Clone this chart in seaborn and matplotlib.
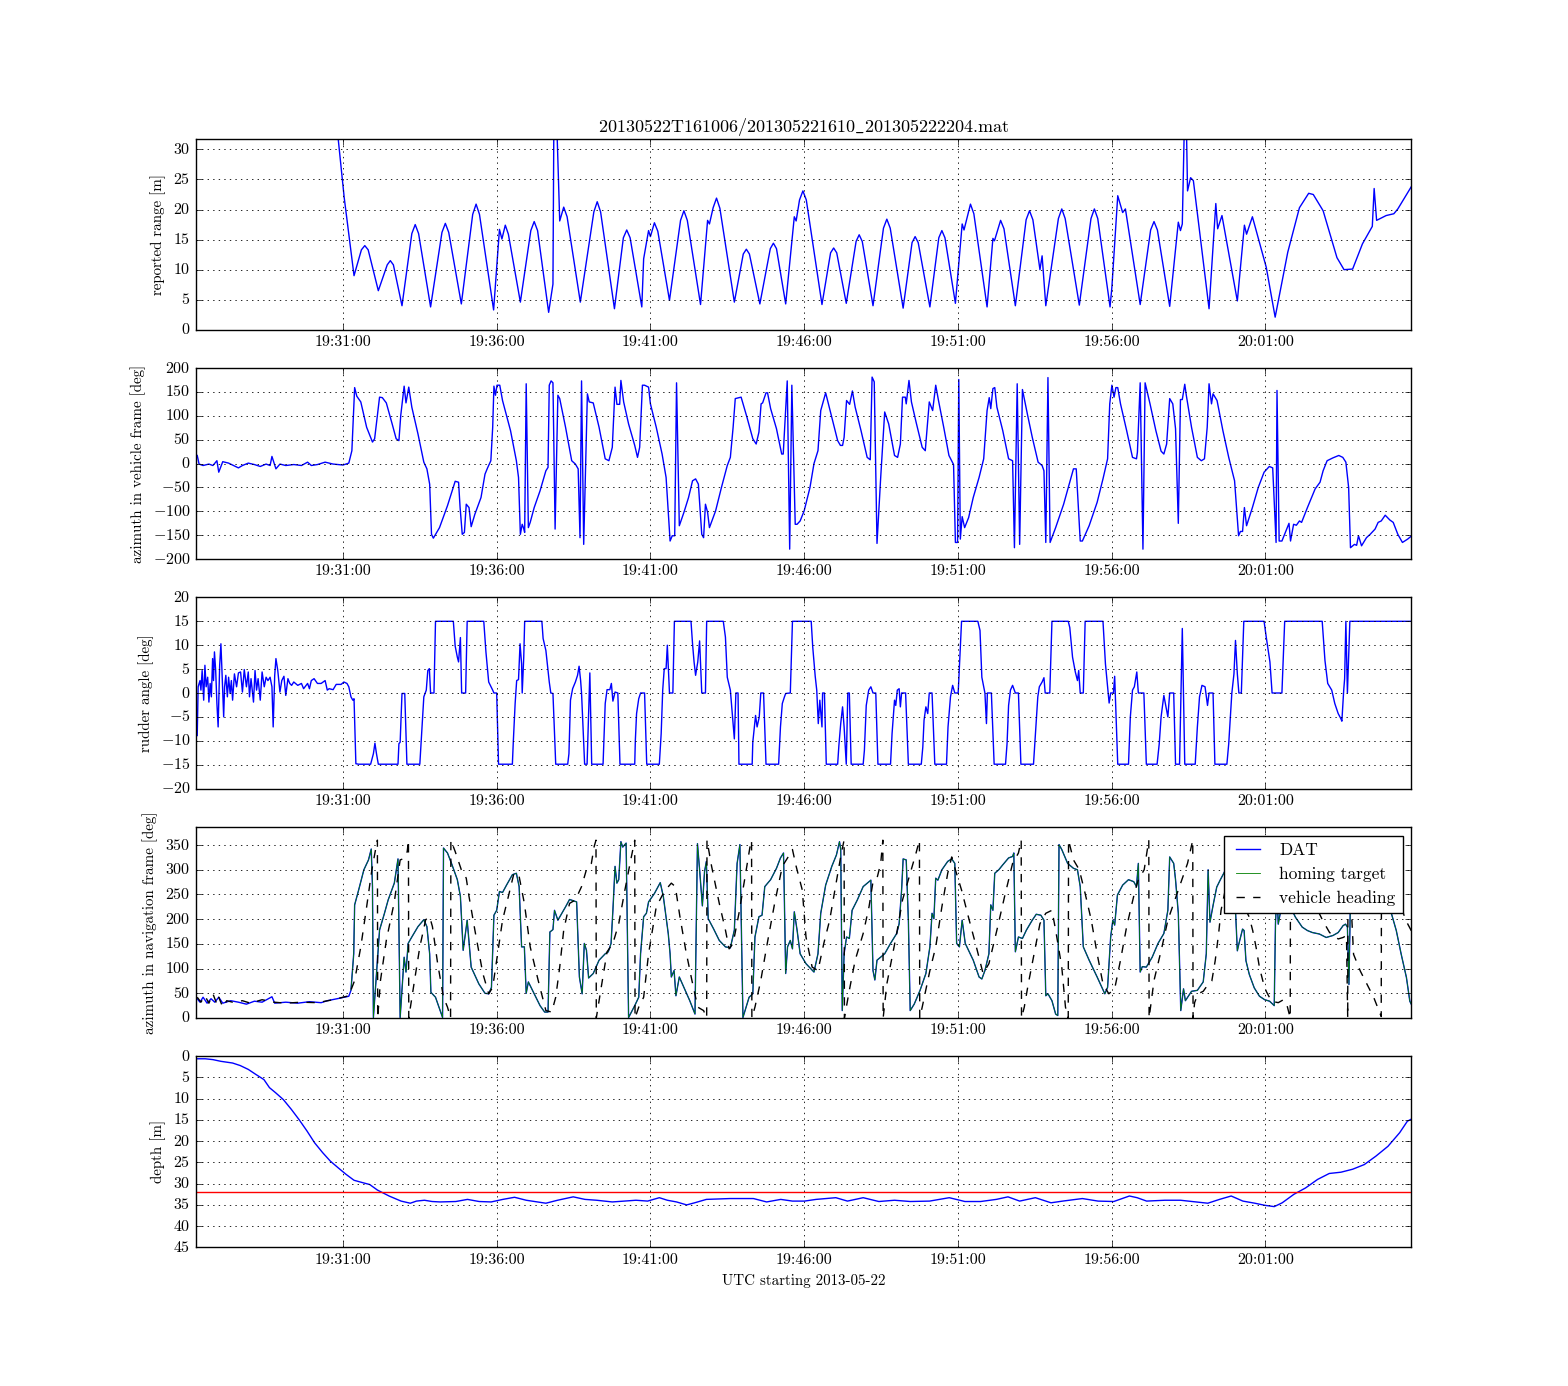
import numpy as np
import pandas as pd
import matplotlib
matplotlib.use('Agg')
import matplotlib.pyplot as plt
import matplotlib.dates as mdates
import seaborn as sns

plt.style.use('classic')
plt.rcParams.update({
    'figure.facecolor': 'white',
    'savefig.facecolor': 'white',
    'font.family': ['cmr10', 'DejaVu Serif'],
    'mathtext.fontset': 'cm',
    'axes.formatter.use_mathtext': True,
    'font.size': 10.8,
    'xtick.labelsize': 11.5,
    'ytick.labelsize': 11.5,
    'axes.labelsize': 10.8,
    'axes.titlesize': 13,
    'legend.fontsize': 12.5,
})

# times are minutes after 19:00 UTC, 2013-05-22
BASE = pd.Timestamp('2013-05-22 19:00:00')
X_START, X_END = 26.22, 65.745

# reported range [m]
range_t = [30.80, 31.04, 31.36, 31.60, 31.71, 31.82, 32.15, 32.44, 32.54, 32.64, 32.92, 33.24,
           33.35, 33.46, 33.85, 34.22, 34.33, 34.44, 34.85, 35.22, 35.33, 35.44, 35.90, 36.09,
           36.17, 36.28, 36.38, 36.77, 37.11, 37.22, 37.33, 37.69, 37.83, 37.86, 37.95, 38.05,
           38.18, 38.29, 38.72, 39.16, 39.27, 39.38, 39.83, 40.12, 40.23, 40.34, 40.72, 40.78,
           40.94, 41.00, 41.13, 41.24, 41.62, 41.98, 42.09, 42.20, 42.63, 42.86, 42.92, 43.04,
           43.15, 43.26, 43.73, 44.02, 44.12, 44.22, 44.56, 44.90, 45.00, 45.10, 45.40, 45.68,
           45.74, 45.85, 45.96, 46.07, 46.58, 46.86, 46.96, 47.06, 47.37, 47.69, 47.79, 47.89,
           48.24, 48.58, 48.69, 48.80, 49.22, 49.51, 49.61, 49.71, 50.09, 50.38, 50.48, 50.58,
           50.92, 51.14, 51.20, 51.41, 51.52, 51.95, 52.14, 52.19, 52.39, 52.50, 52.87, 53.22,
           53.33, 53.44, 53.67, 53.74, 53.86, 54.27, 54.38, 54.49, 54.95, 55.33, 55.44, 55.55,
           55.95, 56.01, 56.20, 56.36, 56.45, 56.93, 57.27, 57.38, 57.49, 57.89, 58.17, 58.24,
           58.30, 58.37, 58.43, 58.47, 58.57, 58.66, 59.17, 59.39, 59.45, 59.59, 60.09, 60.32,
           60.39, 60.58, 61.03, 61.32, 61.73, 62.11, 62.41, 62.56, 62.88, 63.33, 63.56, 63.84,
           64.16, 64.48, 64.54, 64.62, 64.93, 65.18, 65.31, 65.63, 65.76]
range_v = [34.0, 22.0, 9.0, 13.3, 14.0, 13.3, 6.5, 10.8, 11.5, 10.8, 4.0, 16.0,
           17.5, 16.0, 3.8, 16.2, 17.7, 16.2, 4.3, 19.2, 20.9, 19.2, 3.3, 16.7,
           15.1, 17.4, 15.9, 4.6, 16.5, 18.0, 16.5, 2.9, 7.6, 35.0, 35.0, 18.1,
           20.4, 18.8, 4.6, 19.6, 21.3, 19.6, 3.5, 15.3, 16.6, 15.3, 3.8, 11.8,
           16.5, 15.5, 17.8, 16.4, 4.9, 18.2, 19.8, 18.2, 4.2, 18.2, 17.6, 20.3,
           21.9, 20.2, 4.6, 12.6, 13.4, 12.6, 4.3, 13.5, 14.4, 13.5, 4.3, 18.8,
           18.1, 21.6, 23.1, 21.6, 4.2, 12.8, 13.6, 12.8, 4.4, 14.7, 15.8, 14.7,
           4.0, 16.9, 18.4, 16.9, 3.6, 14.5, 15.5, 14.5, 3.8, 15.3, 16.5, 15.3,
           4.4, 17.6, 16.6, 20.9, 19.3, 3.8, 15.2, 14.8, 18.2, 16.8, 4.0, 18.3,
           19.8, 18.3, 10.0, 12.3, 4.0, 18.5, 20.1, 18.5, 4.1, 18.5, 20.1, 18.5,
           3.8, 7.1, 22.3, 19.5, 20.1, 4.2, 16.6, 18.0, 16.6, 3.9, 17.9, 16.5,
           17.6, 35.0, 35.0, 23.1, 25.3, 24.8, 3.5, 21.0, 16.8, 19.0, 4.8, 17.4,
           15.9, 18.8, 10.4, 2.1, 12.9, 20.3, 22.7, 22.5, 19.8, 12.0, 10.0, 10.1,
           14.3, 17.2, 23.5, 18.2, 19.0, 19.3, 20.1, 22.8, 23.9]

# azimuth in vehicle frame [deg]
azv_t = [26.26, 26.32, 26.45, 26.64, 26.77, 26.90, 26.96, 27.09, 27.28, 27.60, 27.73, 27.92,
         28.12, 28.31, 28.50, 28.63, 28.69, 28.82, 28.95, 29.14, 29.40, 29.65, 29.85, 29.97,
         30.17, 30.42, 30.68, 31.00, 31.19, 31.29, 31.38, 31.45, 31.58, 31.77, 31.96, 32.03,
         32.19, 32.28, 32.41, 32.60, 32.73, 32.82, 32.88, 32.99, 33.05, 33.14, 33.24, 33.44,
         33.63, 33.73, 33.82, 33.88, 33.94, 34.14, 34.40, 34.65, 34.76, 34.81, 34.88, 34.95,
         35.01, 35.10, 35.17, 35.29, 35.49, 35.62, 35.71, 35.81, 35.87, 35.91, 35.96, 36.01,
         36.10, 36.19, 36.45, 36.64, 36.71, 36.77, 36.83, 36.87, 36.91, 36.96, 37.03, 37.09,
         37.22, 37.41, 37.60, 37.67, 37.71, 37.77, 37.83, 37.90, 37.99, 38.05, 38.24, 38.44,
         38.56, 38.65, 38.71, 38.76, 38.83, 38.95, 39.01, 39.14, 39.33, 39.53, 39.65, 39.76,
         39.85, 39.91, 40.00, 40.04, 40.13, 40.29, 40.49, 40.58, 40.65, 40.74, 40.81, 40.94,
         41.00, 41.19, 41.38, 41.51, 41.64, 41.71, 41.79, 41.85, 41.94, 42.09, 42.24, 42.37,
         42.47, 42.56, 42.67, 42.73, 42.79, 42.86, 42.92, 43.12, 43.31, 43.50, 43.60, 43.69,
         43.76, 43.95, 44.14, 44.33, 44.44, 44.53, 44.60, 44.65, 44.76, 44.81, 44.91, 45.10,
         45.27, 45.32, 45.45, 45.53, 45.60, 45.71, 45.77, 45.87,
         46.00, 46.19, 46.32, 46.45, 46.54, 46.70, 46.90, 47.09, 47.18, 47.25, 47.30, 47.38,
         47.48, 47.57, 47.66, 47.85, 48.05, 48.15, 48.21, 48.28, 48.37, 48.49, 48.62, 48.75,
         48.94, 49.04, 49.13, 49.20, 49.29, 49.32, 49.41, 49.49, 49.64, 49.84, 49.94, 50.07,
         50.18, 50.28, 50.37, 50.54, 50.71, 50.86, 50.92, 50.99, 51.03, 51.08, 51.14, 51.22,
         51.35, 51.50, 51.69, 51.84, 51.95, 52.02, 52.07, 52.14, 52.20, 52.27, 52.46, 52.65,
         52.78, 52.84, 52.93, 53.01, 53.10, 53.26, 53.42, 53.61, 53.74, 53.80, 53.86, 53.93,
         54.00, 54.18, 54.44, 54.76, 54.85, 54.98, 55.05, 55.27, 55.53, 55.72, 55.87, 55.94,
         56.01, 56.08, 56.14, 56.20, 56.29, 56.49, 56.68, 56.81, 56.84, 56.93, 57.02, 57.09,
         57.25, 57.44, 57.61, 57.70, 57.79, 57.89, 57.99, 58.08, 58.17, 58.24, 58.30, 58.38,
         58.43, 58.60, 58.79, 58.92, 59.02, 59.11, 59.17, 59.25, 59.30, 59.43, 59.62, 59.81,
         60.00, 60.13, 60.19, 60.26, 60.32, 60.39, 60.58, 60.77, 60.96, 61.13, 61.24, 61.35,
         61.38, 61.45, 61.54, 61.77, 61.82, 61.92, 62.01, 62.11, 62.18, 62.37, 62.62, 62.78,
         62.88, 63.01, 63.20, 63.39, 63.52, 63.62, 63.71, 63.77, 63.90, 63.97, 64.03, 64.13,
         64.29, 64.41, 64.57, 64.67, 64.77, 64.90, 65.05, 65.16, 65.31, 65.46, 65.63, 65.76]
azv_v = [17, -1, -4, -1, -4, 6, -18, 4, 1, -9, -4, 1,
         -2, -6, -1, -4, 15, -11, -1, -4, -2, -4, 3, -4,
         -2, 3, -1, -3, 1, 27, 159, 141, 129, 76, 45, 52,
         139, 138, 127, 83, 52, 48, 101, 162, 127, 160, 118, 62,
         3, -11, -43, -148, -156, -134, -88, -37, -39, -92, -148, -144,
         -85, -92, -132, -106, -71, -22, -8, 6, 76, 162, 143, 164,
         164, 132, 69, 6, -29, -148, -127, -134, -144, 167, -134, -123,
         -92, -57, -15, -8, 164, 173, 169, -137, 143, 136, 76, 6,
         -1, -11, -155, 173, -169, 146, 129, 127, 76, 10, 6, 34,
         160, 124, 124, 174, 129, 83, 38, 13, 34, 164, 164, 160,
         125, 76, 20, -29, -162, -151, -151, 169, -130, -102, -71, -36,
         -32, -43, -148, -155, -85, -102, -134, -99, -50, -4, 13, 76,
         136, 139, 97, 52, 41, 66, 125, 127, 148, 148, 115, 73,
         20, 20, 173, -179, 164, -127, -127, -120,
         -99, -50, 0, 27, 111, 148, 97, 48, 38, 38, 55, 132,
         124, 152, 118, 69, 13, 8, 181, 171, -167, -29, 108, 83,
         17, 13, 41, 139, 139, 125, 174, 129, 87, 34, 27, 129,
         111, 164, 132, 76, 17, -2, -165, -165, 176, -158, -111, -134,
         -113, -71, -29, 10, 111, 138, 115, 157, 159, 118, 69, 10,
         6, -176, 167, -169, 155, 104, 55, 3, -4, -15, -165, 180,
         -165, -134, -85, -11, -11, -162, -162, -130, -81, -32, 10, 125,
         164, 139, 159, 159, 125, 69, 13, 10, 24, 169, -179, 169,
         125, 69, 26, 20, 41, 136, 125, 73, -125, 134, 134, 166,
         143, 76, 13, 6, 10, 76, 167, 125, 146, 132, 69, 13,
         -36, -151, -142, -142, -92, -130, -92, -50, -18, -6, -9, -165,
         153, -162, -162, -125, -162, -127, -129, -120, -123, -92, -53, -39,
         -15, 6, 12, 17, 13, 3, -50, -176, -169, -171, -151, -172,
         -155, -148, -137, -123, -120, -108, -118, -123, -148, -165, -158, -151]

# rudder angle [deg]
rud_t = [26.26, 26.29, 26.35, 26.38, 26.42, 26.47, 26.51, 26.55, 26.60, 26.64, 26.68, 26.72,
         26.76, 26.79, 26.82, 26.86, 26.90, 26.94, 26.99, 27.03, 27.06, 27.12, 27.15, 27.19,
         27.24, 27.28, 27.33, 27.37, 27.41, 27.47, 27.54, 27.60, 27.67, 27.73, 27.79, 27.86,
         27.92, 27.96, 28.01, 28.05, 28.09, 28.14, 28.19, 28.24, 28.31, 28.37, 28.44, 28.50,
         28.56, 28.63, 28.69, 28.73, 28.78, 28.82, 28.88, 28.95, 29.01, 29.08, 29.14, 29.21,
         29.27, 29.33, 29.40, 29.53, 29.65, 29.72, 29.85, 29.91, 29.97, 30.06, 30.17, 30.29,
         30.42, 30.49, 30.55, 30.68, 30.78, 30.94, 31.03, 31.13, 31.19, 31.26, 31.32, 31.36,
         31.42, 31.51, 31.90, 31.99, 32.04, 32.09, 32.15, 32.79, 32.82, 32.86, 32.92, 33.01,
         33.08, 33.50, 33.54, 33.63, 33.71, 33.76, 33.81, 33.85, 33.96, 34.01, 34.59, 34.65,
         34.72, 34.76, 34.82, 34.86, 34.99, 35.04, 35.58, 35.65, 35.74, 35.87, 35.91, 36.00,
         36.06, 36.51, 36.54, 36.60, 36.65, 36.71, 36.76, 36.81, 36.83, 36.88, 36.91, 37.47,
         37.51, 37.60, 37.71, 37.76, 37.83, 37.92, 38.31, 38.35, 38.40, 38.47, 38.56, 38.63,
         38.68, 38.73, 38.76, 38.86, 38.94, 39.03, 39.09, 39.46, 39.53, 39.59, 39.68, 39.73,
         39.78, 39.85, 39.94, 40.01, 40.49, 40.51, 40.55, 40.62, 40.68, 40.81, 40.88, 41.29,
         41.35, 41.40, 41.45, 41.51, 41.55, 41.62, 41.73, 41.78, 42.32, 42.37, 42.42, 42.47,
         42.54, 42.60, 42.67, 42.79, 42.83, 43.37, 43.44, 43.50, 43.60, 43.65, 43.73, 43.78,
         43.85, 43.88, 44.31, 44.33, 44.42, 44.47, 44.54, 44.59, 44.68, 44.76, 45.17, 45.23,
         45.29, 45.36, 45.40, 45.55, 45.62, 46.23, 46.28, 46.36, 46.41, 46.46, 46.51, 46.58,
         46.60, 46.66, 46.72, 47.09, 47.13, 47.19, 47.25, 47.30, 47.37, 47.42, 47.47, 47.53,
         47.92, 47.96, 48.02, 48.10, 48.17, 48.24, 48.33, 48.40, 48.81, 48.86, 48.94, 48.98,
         49.03, 49.09, 49.13, 49.17, 49.30, 49.39, 49.81, 49.86, 49.90, 49.96, 50.02, 50.07,
         50.16, 50.25, 50.63, 50.68, 50.76, 50.83, 50.90, 51.01, 51.12, 51.65, 51.72, 51.78,
         51.88, 51.93, 51.96, 52.09, 52.18, 52.55, 52.60, 52.65, 52.71, 52.78, 52.87, 52.97,
         53.05, 53.46, 53.51, 53.60, 53.65, 53.74, 53.80, 53.84, 53.99, 54.06, 54.59, 54.64,
         54.73, 54.82, 54.89, 54.93, 54.98, 55.08, 55.14, 55.72, 55.80, 55.92, 55.97, 56.06,
         56.10, 56.20, 56.55, 56.61, 56.68, 56.74, 56.82, 56.87, 57.05, 57.13, 57.48, 57.55,
         57.61, 57.70, 57.76, 57.83, 57.89, 58.02, 58.08, 58.21, 58.30, 58.38, 58.72, 58.79,
         58.86, 58.94, 59.04, 59.12, 59.17, 59.30, 59.36, 59.75, 59.81, 59.91, 59.98, 60.03,
         60.09, 60.14, 60.22, 60.30, 60.96, 61.03, 61.15, 61.22, 61.54, 61.63, 62.85, 62.94,
         63.03, 63.16, 63.26, 63.37, 63.46, 63.49, 63.55, 63.58, 63.62, 63.67, 63.75, 65.82]
rud_v = [-8.9, 1.3, 2.6, 0.6, 4.7, -1.5, 5.8, 1.3, 3.3, -1.9, 2.0, -0.8,
         7.2, 2.6, 8.6, 4.7, -2.2, -7.1, 5.8, 10.3, 5.4, -5.0, 1.3, 3.7,
         -0.8, 3.3, -0.1, 2.6, -1.5, 4.0, 1.3, 4.2, 4.4, 0.2, 4.9, 1.3,
         4.4, -0.8, 3.0, 0.6, -1.9, 4.7, 0.6, 3.0, -1.5, 4.4, 1.3, 3.3,
         2.6, 3.3, 1.3, -7.1, 3.7, 7.2, 4.7, 0.2, 2.6, 3.5, -0.5, 3.0,
         2.0, 1.6, 2.3, 1.6, 2.0, 0.9, 2.0, 0.9, 2.6, 3.0, 2.0, 2.0,
         2.6, 0.6, 0.9, 0.7, 1.8, 1.8, 2.3, 2.0, 1.3, -0.8, -1.5, -1.2,
         -14.8, -14.9, -14.9, -12.7, -10.5, -12.7, -14.9, -14.9, -10.6, -10.3, -0.1, -0.1,
         -14.9, -14.9, -10.6, -0.8, 0.6, 4.7, 5.1, 0.0, 0.0, 15.0, 15.0, 9.8,
         7.5, 6.5, 11.6, 0.0, 0.0, 15.0, 15.0, 8.6, 2.3, 0.6, 0.0, 0.0,
         -14.9, -14.9, -10.3, -2.2, 2.6, 2.8, 10.3, 6.1, 0.0, 7.5, 15.0, 15.0,
         11.4, 8.9, 2.3, 0.0, -0.1, -14.9, -14.9, -12.7, -1.5, 0.9, 2.3, 3.7,
         5.6, 2.6, 0.0, -14.9, -14.9, 4.2, -14.9, -14.9, -2.2, 0.7, 0.7, 2.0,
         -1.7, 0.2, 0.0, -14.9, -14.9, -9.9, -4.3, -1.2, 0.0, 0.0, -14.9, -14.9,
         -8.5, 0.6, 5.1, 5.1, 10.0, 0.0, 0.0, 15.0, 15.0, 10.3, 6.5, 3.7,
         6.5, 10.9, 0.0, 0.0, 15.0, 15.0, 11.7, 3.3, 0.6, -3.3, -9.6, 0.0,
         0.0, -14.9, -14.9, -10.3, -4.7, -7.1, -5.0, 0.0, 0.0, -14.9, -14.9, -7.1,
         -2.2, -0.8, -0.1, 0.0, 15.0, 15.0, 9.6, 3.5, 0.6, -6.4, -1.5, -7.1,
         0.0, 0.0, -14.9, -14.9, -11.0, -6.4, -2.9, -7.1, -14.9, 0.0, 0.0, -14.9,
         -14.9, -12.0, -2.6, 0.6, 1.3, 0.0, 0.0, -14.9, -14.9, -8.5, -1.5, -2.6,
         0.6, 0.9, -2.9, 0.0, 0.0, -14.9, -14.9, -11.3, -5.7, -2.9, -4.3, 0.0,
         0.0, -14.9, -14.9, -7.1, -0.8, 1.6, 0.0, 0.0, 15.0, 15.0, 13.1, 3.3,
         0.0, -6.4, 0.0, 0.0, -14.9, -14.9, -10.6, -2.6, 0.6, 1.6, 0.0, 0.0,
         -14.9, -14.9, -9.9, -0.8, 1.3, 2.3, 3.2, 0.0, 0.0, 15.0, 15.0, 13.7,
         7.5, 4.4, 2.6, 4.7, 0.0, 0.0, 15.0, 15.0, 6.1, -2.1, 0.0, 0.0,
         3.5, -14.9, -14.9, -5.0, 0.6, 1.3, 4.4, 0.0, 0.0, -14.9, -14.9, -10.6,
         -5.0, -0.5, -2.6, -5.0, 0.0, 0.0, -14.9, -14.9, 13.5, -14.9, -14.9, -7.1,
         -0.8, 1.6, 1.3, -2.6, 0.0, 0.0, -14.9, -14.9, -10.6, -0.1, 4.0, 11.0,
         4.0, 0.0, 0.0, 15.0, 15.0, 11.7, 6.5, 0.0, 0.0, 15.0, 15.0, 6.8,
         2.0, 0.6, -2.2, -4.3, -5.4, -5.9, 0.6, 3.0, 15.0, 0.0, 15.0, 15.0]

# azimuth in navigation frame [deg]: DAT solution
dat_t = [26.26, 26.35, 26.45, 26.58, 26.71, 26.83, 26.96, 27.09, 27.35, 27.60, 27.86, 28.12,
         28.37, 28.69, 28.78, 29.14, 29.53, 29.91, 30.29, 30.49, 30.81, 31.19, 31.26, 31.35,
         31.38, 31.51, 31.68, 31.83, 31.92, 31.96, 31.99, 32.09, 32.19, 32.35, 32.47, 32.67,
         32.79, 32.86, 32.99, 33.05, 33.12, 33.24, 33.44, 33.63, 33.73, 33.82, 33.86, 34.01,
         34.24, 34.27, 34.40, 34.53, 34.72, 34.82, 34.91, 35.04, 35.17, 35.42, 35.62, 35.74,
         35.83, 35.91, 36.00, 36.09, 36.19, 36.32, 36.51, 36.64, 36.73, 36.81, 36.90, 36.96,
         37.03, 37.22, 37.41, 37.56, 37.67, 37.73, 37.83, 37.88, 37.99, 38.12, 38.24, 38.37,
         38.60, 38.69, 38.78, 38.85, 38.92, 38.99, 39.14, 39.33, 39.53, 39.63, 39.72, 39.78,
         39.85, 39.91, 39.97, 40.04, 40.10, 40.21, 40.29, 40.49, 40.62, 40.68, 40.78, 40.87,
         40.94, 41.13, 41.32, 41.42, 41.58, 41.64, 41.68, 41.77, 41.83, 41.94, 42.09, 42.28,
         42.45, 42.53, 42.60, 42.69, 42.76, 42.82, 42.88, 43.05, 43.24, 43.44, 43.60, 43.73,
         43.82, 43.91, 44.01, 44.21, 44.33, 44.40, 44.53, 44.63, 44.72, 44.91, 45.10, 45.23,
         45.33, 45.40, 45.46, 45.55, 45.62, 45.68, 45.77, 45.87, 46.06, 46.32, 46.45, 46.54,
         46.70, 46.90, 47.05, 47.15, 47.19, 47.24, 47.30, 47.38, 47.47, 47.56, 47.73, 47.92,
         48.11, 48.17, 48.24, 48.30, 48.37, 48.62, 48.81, 49.01, 49.09, 49.17, 49.22, 49.32,
         49.39, 49.45, 49.58, 49.77, 49.96, 50.09, 50.16, 50.22, 50.28, 50.35, 50.48, 50.67,
         50.80, 50.90, 50.96, 51.05, 51.14, 51.24, 51.50, 51.69, 51.78, 51.88, 52.01, 52.07,
         52.14, 52.20, 52.33, 52.46, 52.65, 52.78, 52.82, 52.87, 52.97, 53.10, 53.23, 53.42,
         53.55, 53.70, 53.80, 53.86, 53.93, 54.06, 54.18, 54.25, 54.29, 54.38, 54.57, 54.76,
         54.89, 54.98, 55.08, 55.27, 55.53, 55.78, 55.87, 55.97, 56.04, 56.10, 56.19, 56.36,
         56.55, 56.72, 56.81, 56.87, 56.93, 57.00, 57.13, 57.32, 57.51, 57.70, 57.83, 57.89,
         58.02, 58.08, 58.17, 58.25, 58.34, 58.40, 58.60, 58.79, 58.98, 59.08, 59.14, 59.20,
         59.31, 59.42, 59.53, 59.75, 59.95, 60.03, 60.09, 60.14, 60.26, 60.31, 60.37, 60.48,
         60.64, 60.81, 60.98, 61.14, 61.29, 61.33, 61.38, 61.42, 61.60, 61.87, 61.98, 62.20,
         62.37, 62.53, 62.76, 62.98, 63.20, 63.37, 63.53, 63.61, 63.67, 63.72, 63.76, 63.90,
         64.50, 64.90, 65.09, 65.26, 65.42, 65.59, 65.70, 65.81]
dat_v = [39, 32, 42, 30, 39, 32, 42, 30, 35, 32, 28, 34,
         32, 43, 30, 32, 30, 33, 31, 35, 39, 44, 56, 130,
         229, 259, 300, 320, 342, 266, 1, 90, 178, 212, 239, 273,
         322, 1, 123, 93, 151, 164, 185, 199, 185, 130, 52, 42,
         1, 344, 334, 313, 280, 246, 137, 198, 103, 69, 50, 49,
         62, 208, 218, 256, 254, 269, 290, 293, 266, 144, 144, 50,
         73, 49, 25, 12, 12, 174, 179, 218, 198, 212, 225, 240,
         235, 83, 49, 151, 137, 81, 90, 117, 130, 134, 151, 218,
         307, 273, 280, 357, 346, 354, 1, 25, 42, 130, 205, 212,
         235, 252, 274, 246, 171, 130, 83, 96, 45, 83, 62, 35,
         8, 353, 300, 227, 296, 317, 201, 181, 157, 144, 142, 178,
         313, 351, 1, 42, 49, 164, 205, 208, 266, 280, 303, 324,
         334, 90, 144, 157, 140, 215, 178, 130, 110, 93, 130, 212,
         269, 307, 330, 357, 341, 15, 130, 164, 161, 218, 239, 266,
         276, 279, 96, 77, 117, 130, 151, 171, 191, 259, 322, 320,
         198, 15, 28, 56, 90, 144, 212, 201, 283, 279, 300, 317,
         322, 313, 151, 144, 198, 151, 117, 83, 79, 96, 130, 229,
         218, 293, 300, 310, 324, 327, 334, 134, 164, 161, 178, 198,
         210, 208, 198, 45, 49, 35, 8, 5, 351, 341, 313, 303,
         300, 266, 144, 117, 83, 49, 62, 164, 198, 188, 249, 269,
         280, 276, 266, 313, 93, 104, 103, 123, 151, 171, 218, 326,
         313, 280, 212, 15, 59, 35, 54, 56, 73, 130, 300, 194,
         231, 265, 279, 305, 300, 218, 136, 150, 180, 177, 116, 88,
         61, 44, 37, 34, 25, 190, 260, 190, 250, 218, 204, 184,
         177, 173, 170, 163, 167, 173, 187, 190, 184, 68, 211, 255,
         280, 262, 214, 177, 129, 82, 34, 20]

# azimuth in navigation frame [deg]: vehicle heading
hdg_t = [26.26, 26.38, 26.51, 26.64, 26.77, 26.90, 26.96, 27.09, 27.22, 27.41, 27.73, 27.99,
         28.37, 28.76, 29.14, 29.65, 30.17, 30.68, 31.19, 31.38, 31.58, 31.77, 31.94, 32.06,
         32.12, 32.13, 32.22, 32.41, 32.67, 32.86, 32.99, 33.09, 33.13, 33.14, 33.31, 33.50,
         33.69, 33.82, 33.91, 34.08, 34.27, 34.40, 34.50, 34.51, 34.65, 34.85, 35.01, 35.10,
         35.29, 35.55, 35.74, 35.87, 36.00, 36.19, 36.38, 36.55, 36.71, 36.90, 37.09, 37.35,
         37.60, 37.79, 37.92, 38.05, 38.18, 38.37, 38.56, 38.76, 38.95, 39.08, 39.17, 39.23,
         39.24, 39.40, 39.59, 39.78, 39.97, 40.17, 40.36, 40.49, 40.50, 40.62, 40.78, 40.94,
         41.19, 41.45, 41.68, 41.81, 41.96, 42.15, 42.35, 42.54, 42.73, 42.83, 42.84, 42.99,
         43.24, 43.44, 43.56, 43.69, 43.88, 44.08, 44.24, 44.29, 44.30, 44.40, 44.59, 44.78,
         45.04, 45.29, 45.49, 45.62, 45.74, 45.94, 46.06, 46.26, 46.45, 46.64, 46.83, 47.02,
         47.21, 47.30, 47.31, 47.47, 47.66, 47.92, 48.11, 48.24, 48.37, 48.49, 48.56, 48.57,
         48.69, 48.88, 49.01, 49.20, 49.45, 49.64, 49.75, 49.76, 49.84, 50.09, 50.28, 50.48,
         50.67, 50.80, 50.92, 51.12, 51.37, 51.63, 51.82, 52.01, 52.27, 52.52, 52.78, 52.97,
         53.06, 53.07, 53.16, 53.29, 53.48, 53.67, 53.86, 54.06, 54.18, 54.38, 54.50, 54.59,
         54.60, 54.76, 54.95, 55.14, 55.34, 55.53, 55.72, 55.91, 56.10, 56.29, 56.49, 56.74,
         56.87, 57.06, 57.19, 57.21, 57.22, 57.38, 57.64, 57.83, 58.02, 58.21, 58.47, 58.64,
         58.65, 58.70, 58.81, 58.98, 59.14, 59.26, 59.37, 59.48, 59.56, 59.80, 60.00, 60.37,
         60.48, 60.59, 60.70, 60.81, 60.92, 61.03, 61.20, 61.42, 61.59, 61.70, 61.81, 61.82,
         62.76, 62.87, 63.09, 63.37, 63.53, 63.64, 63.68, 63.69, 63.87, 64.09, 64.31, 64.53,
         64.77, 64.78, 65.55, 65.72, 65.80]
hdg_v = [42, 32, 45, 30, 49, 28, 42, 22, 35, 32, 35, 30,
         37, 32, 30, 32, 31, 37, 45, 76, 144, 225, 300, 341,
         360, 0, 76, 157, 235, 320, 323, 337, 360, 0, 69, 144,
         199, 205, 185, 110, 42, 22, 0, 360, 337, 300, 283, 246,
         178, 90, 49, 62, 117, 198, 246, 290, 293, 232, 144, 76,
         15, 12, 42, 103, 178, 232, 239, 266, 307, 313, 347, 360,
         0, 62, 134, 151, 191, 259, 320, 360, 0, 22, 42, 130,
         225, 256, 273, 266, 205, 137, 76, 22, 15, 0, 360, 307,
         232, 178, 140, 151, 212, 286, 347, 360, 0, 22, 76, 144,
         232, 307, 327, 341, 307, 259, 164, 103, 96, 151, 198, 266,
         334, 360, 0, 56, 117, 171, 225, 276, 283, 313, 360, 0,
         69, 130, 171, 239, 293, 334, 360, 0, 22, 96, 144, 225,
         293, 326, 300, 259, 198, 137, 90, 110, 178, 246, 313, 334,
         360, 0, 22, 69, 130, 191, 212, 218, 178, 103, 22, 0,
         360, 320, 300, 252, 198, 130, 69, 49, 59, 117, 185, 252,
         280, 300, 351, 360, 0, 76, 144, 198, 232, 266, 313, 360,
         0, 31, 49, 54, 68, 75, 116, 170, 218, 290, 290, 218,
         204, 177, 143, 102, 75, 54, 34, 31, 37, 27, 0, 360,
         211, 197, 173, 160, 163, 167, 0, 360, 129, 95, 68, 41,
         3, 360, 200, 180, 170]

# depth [m]
depth_t = [26.21, 26.52, 26.77, 27.03, 27.41, 27.66, 27.92, 28.17, 28.43, 28.61, 28.81, 29.06,
           29.32, 29.57, 29.83, 30.08, 30.34, 30.59, 30.85, 31.10, 31.36, 31.66, 31.87, 32.12,
           32.50, 32.89, 33.19, 33.39, 33.65, 33.90, 34.16, 34.67, 35.05, 35.43, 35.82, 36.20,
           36.58, 36.96, 37.60, 37.98, 38.49, 38.87, 39.25, 39.76, 40.15, 40.53, 40.91, 41.29,
           41.55, 41.85, 42.18, 42.44, 42.82, 43.59, 44.35, 44.78, 45.24, 45.62, 46.01, 46.39,
           47.03, 47.41, 47.92, 48.43, 48.94, 49.45, 50.08, 50.72, 51.23, 51.74, 52.25, 52.63,
           53.01, 53.52, 54.03, 54.41, 55.05, 55.56, 56.07, 56.58, 56.83, 57.14, 57.73, 58.24,
           58.62, 59.13, 59.51, 59.89, 60.27, 60.66, 60.99, 61.29, 61.55, 61.93, 62.31, 62.70,
           63.08, 63.46, 63.84, 64.22, 64.60, 64.99, 65.37, 65.62, 65.75]
depth_v = [0.6, 0.6, 0.8, 1.2, 1.6, 2.2, 3.1, 4.3, 5.5, 7.4, 8.6, 10.2,
           12.5, 14.9, 17.6, 20.4, 22.7, 24.7, 26.3, 27.8, 29.2, 29.8, 30.2, 31.5,
           32.9, 34.1, 34.6, 34.1, 33.9, 34.2, 34.3, 34.2, 33.7, 34.2, 34.3, 33.7,
           33.2, 33.9, 34.6, 33.9, 33.1, 33.7, 33.9, 34.3, 34.1, 33.9, 34.1, 33.3,
           33.9, 34.3, 35.0, 34.5, 33.7, 33.5, 33.5, 34.3, 33.7, 34.1, 34.1, 33.7,
           33.3, 34.1, 33.3, 34.2, 33.9, 34.2, 34.1, 33.3, 34.2, 34.2, 33.7, 33.1,
           34.1, 33.3, 34.5, 34.1, 33.5, 34.1, 34.2, 32.9, 33.3, 34.1, 33.9, 33.9,
           34.2, 34.6, 33.7, 32.9, 34.1, 34.6, 35.1, 35.4, 34.5, 32.5, 31.0, 29.0,
           27.6, 27.3, 26.6, 25.5, 23.5, 21.2, 18.0, 15.3, 14.8]
depth_target = 32.0

HOMING_START = 31.2


def frame(t, v):
    return pd.DataFrame({'time': BASE + pd.to_timedelta(np.asarray(t), unit='m'),
                         'value': np.asarray(v, dtype=float)})


def draw(ax, df, **kw):
    sns.lineplot(data=df, x='time', y='value', ax=ax, estimator=None, sort=False, **kw)


fig, axes = plt.subplots(5, 1, figsize=(15.68, 13.86), dpi=100)
fig.subplots_adjust(left=0.125, right=0.9, top=0.9, bottom=0.1, hspace=0.2)

draw(axes[0], frame(range_t, range_v), color='b', linewidth=1.0)
draw(axes[1], frame(azv_t, azv_v), color='b', linewidth=1.0)
draw(axes[2], frame(rud_t, rud_v), color='b', linewidth=1.0)

dat = frame(dat_t, dat_v)
home = dat[dat['time'] >= BASE + pd.Timedelta(minutes=HOMING_START)]
draw(axes[3], dat, color='b', linewidth=1.0, label='DAT')
draw(axes[3], home, color='g', linewidth=0.6, label='homing target')
draw(axes[3], frame(hdg_t, hdg_v), color='k', linewidth=1.0, linestyle='--',
     label='vehicle heading')

draw(axes[4], frame(depth_t, depth_v), color='b', linewidth=1.0)
axes[4].axhline(depth_target, color='r', linewidth=1.0)

ylims = [(0, 31.8), (-200, 200), (-20, 20), (0, 387), (45, 0)]
yticks = [np.arange(0, 31, 5), np.arange(-200, 201, 50), np.arange(-20, 21, 5),
          np.arange(0, 351, 50), np.arange(0, 46, 5)]
ylabels = ['reported range [m]', 'azimuth in vehicle frame [deg]', 'rudder angle [deg]',
           'azimuth in navigation frame [deg]', 'depth [m]']

for ax, yl, yt, lab in zip(axes, ylims, yticks, ylabels):
    ax.set_xlim(BASE + pd.Timedelta(minutes=X_START), BASE + pd.Timedelta(minutes=X_END))
    ax.set_ylim(*yl)
    ax.set_yticks(yt)
    ax.set_ylabel(lab)
    ax.set_xlabel('')
    ax.xaxis.set_major_locator(mdates.MinuteLocator(byminute=range(1, 60, 5)))
    ax.xaxis.set_major_formatter(mdates.DateFormatter('%H:%M:%S'))
    ax.grid(True, color='k', linestyle=':', linewidth=0.6)
    if ax.get_legend() is not None and ax is not axes[3]:
        ax.get_legend().remove()

axes[0].set_title('20130522T161006/201305221610$\\_$201305222204.mat')
axes[3].legend(loc='upper right', fontsize=12.5, frameon=True, fancybox=False)
axes[4].set_xlabel('UTC starting 2013-05-22')

fig.savefig('out.png', dpi=100)
